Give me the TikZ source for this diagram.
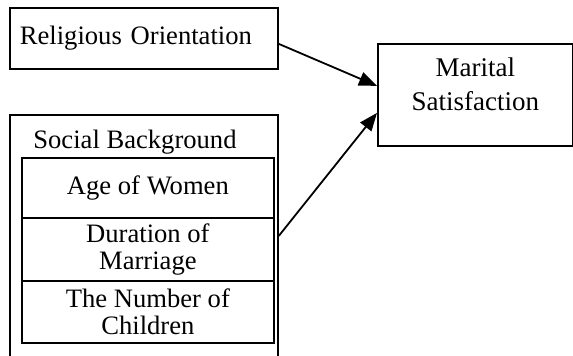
\documentclass[tikz,border=0pt]{standalone}
\usepackage{fontspec}
\setmainfont{Liberation Serif}
\usetikzlibrary{arrows.meta}
\newcommand{\widthbox}{134pt}
\newcommand{\widthinner}{126pt}
\newcommand{\widthsat}{97.5pt}
\tikzset{
    common/.style={draw, rectangle, line width=0.9pt, inner sep=0pt},
    box/.style={common, anchor=north west, minimum width=\widthbox},
    inner/.style={common, anchor=north west, minimum width=\widthinner, align=center},
    link/.style={line width=0.9pt, -{Triangle[length=9pt, width=7pt]}}
}
\begin{document}
\begin{tikzpicture}[x=1pt, y=1pt, font=\fontsize{13.3}{13.5}\selectfont]
  \useasboundingbox (0,0) rectangle (286.5,177.5);
  \clip (0,0) rectangle (286.5,177.5);

  \node[box, minimum height=30.5pt, text width=124pt, inner xsep=5pt, align=left] (rel) at (4.5,174) {Religious Orientation};
  \node[box, minimum width=\widthsat, minimum height=51pt,
        label={[align=center, anchor=north, inner sep=0pt, yshift=-7pt, font=\fontsize{13.5}{17}\selectfont]north:{Marital\\Satisfaction}}
       ] (sat) at (188.5,156) {};

  % social background and its parts
  \node[box, minimum height=126pt] (social) at (4.5,120.5) {};
  \node[anchor=base west, inner sep=0pt] (title) at (16.5,103.5) {Social Background};
  \path (10.5,99) node[inner, minimum height=30pt] (age) {Age of Women}
      ++(270:30) node[inner, minimum height=31.5pt] (dur) {Duration of\\Marriage}
      ++(270:31.5) node[inner, minimum height=31pt] (num) {The Number of\\Children};

  \draw[link] ([yshift=-2.75pt]rel.east) -- ([yshift=4.5pt]sat.west);
  \draw[link] ([yshift=2.5pt]social.east) -- ([yshift=-9pt]sat.west);
\end{tikzpicture}
\end{document}
